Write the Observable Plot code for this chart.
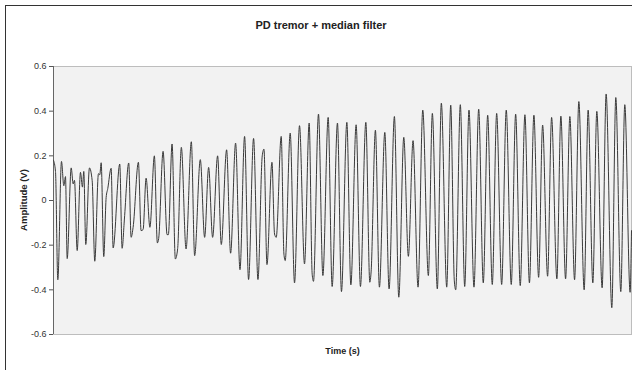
<!DOCTYPE html>
<html>
<head>
<meta charset="utf-8">
<script src="https://cdn.jsdelivr.net/npm/d3@7"></script>
<script src="https://cdn.jsdelivr.net/npm/@observablehq/plot@0.6"></script>
<style>
  html, body { margin: 0; padding: 0; background: #fff; }
  #wrap { position: relative; width: 632px; height: 370px; overflow: hidden; font-family: "Liberation Sans", Arial, sans-serif; }
  #frame { position: absolute; left: 5px; top: 5px; width: 700px; height: 500px; border-left: 1px solid #333; border-top: 1px solid #333; }
  #title { position: absolute; left: 5px; width: 632px; top: 19px; text-align: center; font-weight: bold; font-size: 11px; color: #222; }
  #xlabel { position: absolute; left: 53px; width: 579px; top: 346px; text-align: center; font-weight: bold; font-size: 9px; color: #222; }
  #ylabel { position: absolute; left: 23px; top: 200px; transform: translate(-50%, -50%) rotate(-90deg); font-weight: bold; font-size: 9.5px; color: #222; white-space: nowrap; }
  #chart { position: absolute; left: 0; top: 0; }
</style>
</head>
<body>
<div id="wrap">
  <div id="frame"></div>
  <div id="title">PD tremor + median filter</div>
  <div id="ylabel">Amplitude (V)</div>
  <div id="xlabel">Time (s)</div>
  <div id="chart"></div>
</div>
<script>
// Time (s) of each read extremum / shoulder of the filtered tremor signal
const time = [
  0, 0.05, 0.108, 0.2, 0.258, 0.3, 0.343, 0.443, 0.493, 0.525, 0.593, 0.675, 0.725, 0.758, 0.808,
  0.9, 0.968, 1.033, 1.125, 1.158, 1.193, 1.258, 1.318, 1.358, 1.443, 1.493, 1.658, 1.718, 1.775,
  1.883, 1.943, 1.993, 2.125, 2.193, 2.243, 2.318, 2.413, 2.525, 2.6, 2.633, 2.743, 2.843, 2.875,
  2.968, 3.05, 3.108, 3.2, 3.318, 3.45, 3.533, 3.675, 3.783, 3.883, 3.983, 4.108, 4.2, 4.333,
  4.433, 4.558, 4.668, 4.783, 4.883, 5.008, 5.118, 5.225, 5.268, 5.343, 5.468, 5.533, 5.575, 5.7,
  5.768, 5.8, 5.925, 6.033, 6.158, 6.283, 6.4, 6.475, 6.508, 6.633, 6.743, 6.875, 6.975, 7.108,
  7.208, 7.343, 7.443, 7.575, 7.683, 7.818, 7.918, 7.95, 8.058, 8.158, 8.293, 8.4, 8.533, 8.643,
  8.768, 8.883, 9.0, 9.125, 9.243, 9.383, 9.483, 9.608, 9.708, 9.843, 9.943, 10.033, 10.068,
  10.183, 10.293, 10.4, 10.525, 10.643, 10.758, 10.868, 10.983, 11.093, 11.218, 11.333, 11.458,
  11.568, 11.683, 11.8, 11.913, 12.025, 12.143, 12.243, 12.368, 12.468, 12.6, 12.7, 12.818,
  12.925, 13.043, 13.15, 13.283, 13.383, 13.5, 13.6, 13.733, 13.833, 13.975, 14.075, 14.2, 14.3,
  14.433, 14.468
];
// Amplitude (V) at those times
const amplitude = [
  0.18, 0.13, -0.355, 0.175, 0.066, 0.107, -0.26, 0.146, 0.074, 0.09, -0.224, 0.126, 0.06, 0.13, -0.197,
  0.146, 0.089, -0.272, 0.12, 0.115, 0.169, -0.251, 0.014, 0.053, 0.144, -0.212, 0.163, -0.214, -0.083,
  0.168, -0.165, -0.12, 0.171, -0.135, -0.13, 0.10, -0.12, 0.2, -0.19, -0.17, 0.22, -0.153, -0.153,
  0.253, -0.262, -0.215, 0.238, -0.217, 0.263, -0.247, 0.183, -0.165, 0.148, -0.165, 0.2, -0.197, 0.227,
  -0.236, 0.257, -0.31, 0.287, -0.354, 0.278, -0.354, 0.2, 0.23, -0.287, 0.171, -0.15, -0.165, 0.287,
  -0.24, -0.269, 0.302, -0.369, 0.335, -0.284, 0.347, -0.33, -0.362, 0.387, -0.336, 0.372, -0.385, 0.347,
  -0.408, 0.35, -0.378, 0.339, -0.385, 0.35, -0.366, -0.32, 0.315, -0.388, 0.305, -0.396, 0.376, -0.433,
  0.283, -0.25, 0.268, -0.388, 0.405, -0.336, 0.39, -0.396, 0.436, -0.388, 0.427, -0.36, -0.4,
  0.429, -0.385, 0.405, -0.388, 0.409, -0.369, 0.382, -0.376, 0.39, -0.376, 0.405, -0.376,
  0.387, -0.381, 0.384, -0.369, 0.382, -0.344, 0.338, -0.339, 0.372, -0.351, 0.378, -0.351,
  0.376, -0.355, 0.443, -0.4, 0.405, -0.369, 0.399, -0.391, 0.477, -0.48, 0.461, -0.408, 0.429,
  -0.411, -0.135
];
const yTicks = [-0.6, -0.4, -0.2, 0, 0.2, 0.4, 0.6];
const yTickLabels = ["-0.6", "-0.4", "-0.2", "0", "0.2", "0.4", "0.6"];

const data = time.map((t, i) => ({t, v: amplitude[i]}));
const tMax = time[time.length - 1];

const chart = Plot.plot({
  width: 632,
  height: 370,
  marginLeft: 53,
  marginRight: 1,
  marginTop: 66,
  marginBottom: 36,
  style: {fontFamily: "Liberation Sans, Arial, sans-serif", fontSize: "9px", color: "#333", background: "transparent"},
  x: {domain: [0, tMax], axis: null},
  y: {domain: [-0.6, 0.6], axis: null},
  marks: [
    Plot.frame({fill: "#f2f2f2", stroke: "#bdbdbd"}),
    Plot.axisY({ticks: yTicks, tickFormat: (d, i) => yTickLabels[yTicks.indexOf(d)], tickSize: 4, tickPadding: 3, label: null, stroke: "#555", fill: "#333"}),
    Plot.ruleX([0], {stroke: "#666"}),
    Plot.line(data, {x: "t", y: "v", stroke: "#3a3a3a", strokeWidth: 1, curve: "monotone-x"})
  ]
});
document.getElementById("chart").appendChild(chart);
</script>
</body>
</html>
